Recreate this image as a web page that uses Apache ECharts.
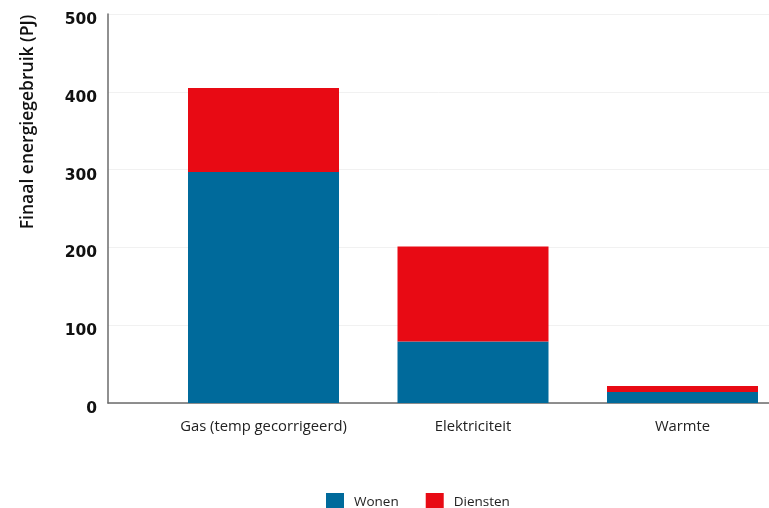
<!DOCTYPE html>
<html>
<head>
<meta charset="utf-8">
<script src="https://cdn.jsdelivr.net/npm/echarts@6/dist/echarts.min.js"></script>
<style>html,body{margin:0;padding:0;background:#fff}#c{width:769px;height:508px}</style>
</head>
<body>
<div id="c"></div>
<script>
const categories = ['Gas (temp gecorrigeerd)', 'Elektriciteit', 'Warmte'];
const wonen = [297, 79, 14];
const diensten = [108, 122, 8];
const yTicks = [0, 100, 200, 300, 400, 500];
const yTitle = 'Finaal energiegebruik (PJ)';
const seriesNames = ['Wonen', 'Diensten'];

const chart = echarts.init(document.getElementById('c'), null, {renderer: 'canvas'});
const axisColor = '#6b6b6b';
chart.setOption({
  animation: false,
  backgroundColor: '#ffffff',
  grid: [
    {left: 108, right: 0, top: 14, bottom: 105, outerBoundsMode: 'none'},
    {left: 158.75, width: 628.5, top: 14, bottom: 105, outerBoundsMode: 'none', containLabel: false}
  ],
  xAxis: [
    {gridIndex: 0, type: 'category', data: categories, axisLine: {lineStyle: {color: axisColor, width: 1.5}},
     axisTick: {show: false}, axisLabel: {show: false}},
    {gridIndex: 1, type: 'category', data: categories, axisLine: {show: false}, axisTick: {show: false},
     axisLabel: {interval: 0, margin: 16, fontFamily: 'Open Sans', fontSize: 14.8, color: '#222'}}
  ],
  yAxis: [
    {gridIndex: 0, type: 'value', min: yTicks[0], max: yTicks[yTicks.length - 1], interval: 100,
     axisLine: {show: true, lineStyle: {color: axisColor, width: 1.5}}, axisTick: {show: false},
     splitLine: {lineStyle: {color: '#f1f1f1', width: 1}},
     axisLabel: {margin: 11, fontFamily: 'DejaVu Sans', fontWeight: 'bold', fontSize: 15.5, color: '#111',
                 verticalAlign: 'top', lineHeight: 12}},
    {gridIndex: 1, type: 'value', min: yTicks[0], max: yTicks[yTicks.length - 1], interval: 100, show: false}
  ],
  legend: {
    data: seriesNames, bottom: -8, left: 321, itemWidth: 18, itemHeight: 18, itemGap: 27,
    icon: 'rect', textStyle: {fontFamily: 'Open Sans', fontSize: 13.5, color: '#222', padding: [0, 0, 0, 5]}
  },
  graphic: [{
    type: 'text', x: 28, y: 122, rotation: Math.PI / 2,
    style: {text: yTitle, fontFamily: 'Open Sans', fontWeight: 600, fontSize: 17.5, fill: '#111',
            textAlign: 'center', textVerticalAlign: 'middle'}
  }],
  series: [
    {name: seriesNames[0], type: 'bar', stack: 's', xAxisIndex: 1, yAxisIndex: 1, data: wonen,
     barWidth: 151, itemStyle: {color: '#006a9b'}},
    {name: seriesNames[1], type: 'bar', stack: 's', xAxisIndex: 1, yAxisIndex: 1, data: diensten,
     barWidth: 151, itemStyle: {color: '#e80a14'}}
  ]
});
</script>
</body>
</html>
